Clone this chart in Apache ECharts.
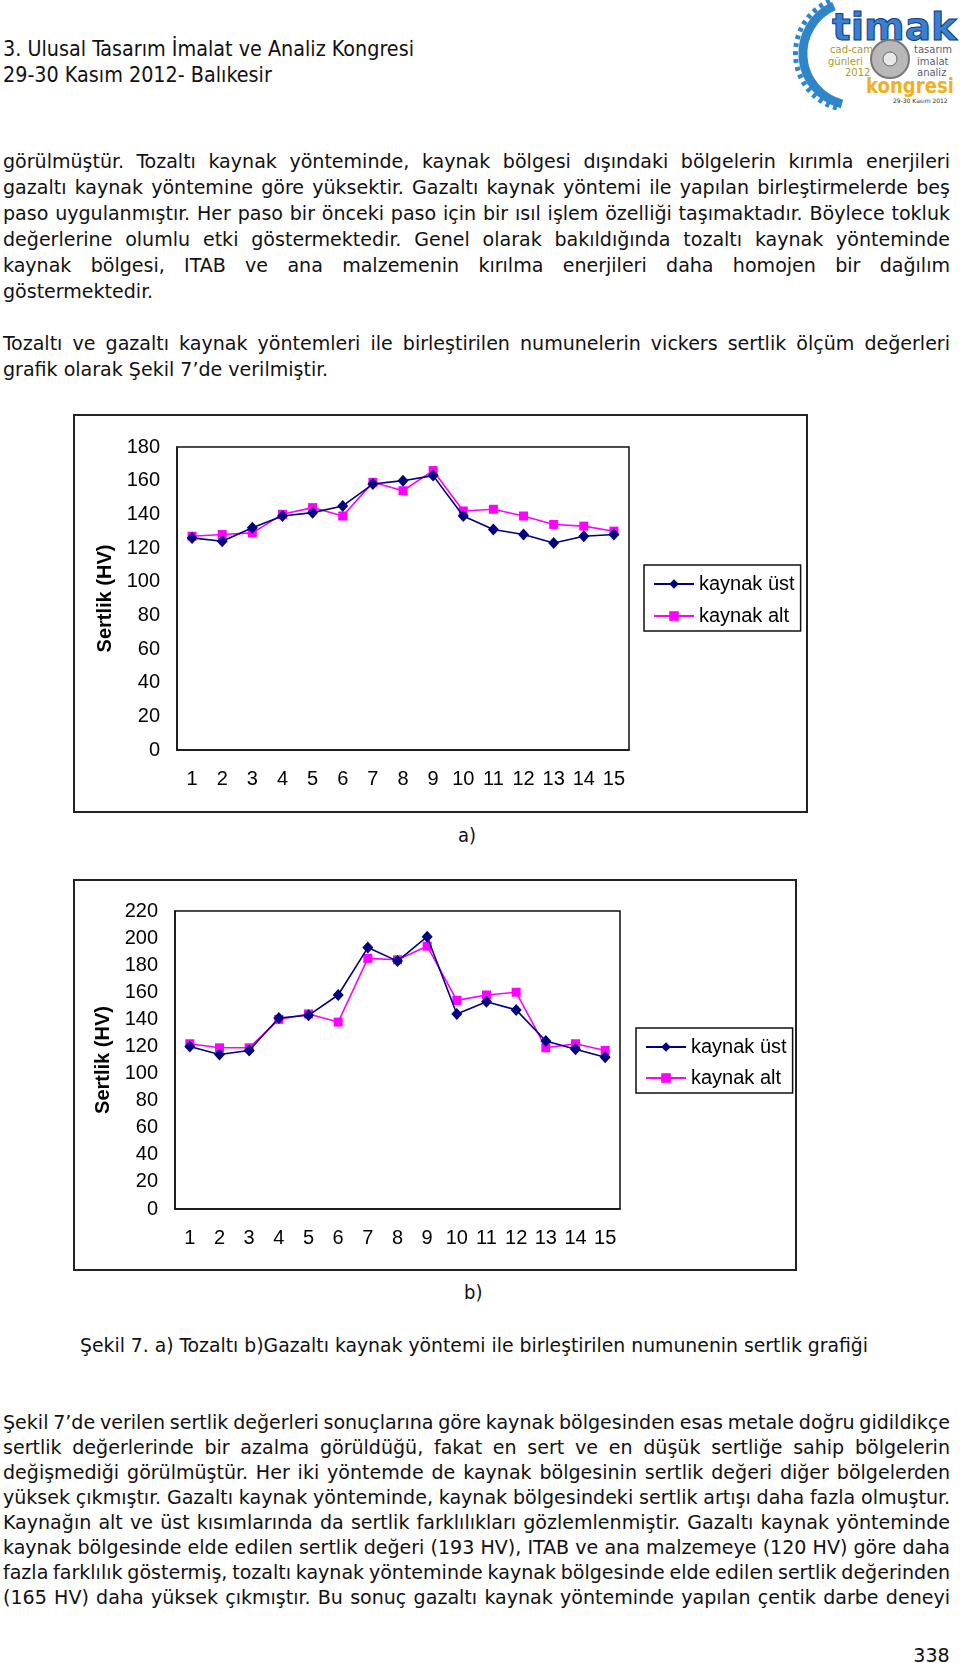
<!DOCTYPE html>
<html><head><meta charset="utf-8">
<script src="https://cdn.jsdelivr.net/npm/echarts@6/dist/echarts.min.js"></script>
<style>
html,body{margin:0;padding:0;background:#fff;}
#page{position:relative;width:960px;height:1663px;overflow:hidden;background:#fff;}
.t{position:absolute;font-family:"DejaVu Sans Condensed","DejaVu Sans",sans-serif;color:#111;white-space:nowrap;transform-origin:0 50%;line-height:24px;height:24px;}
.j{text-align:justify;text-align-last:justify;white-space:normal;}
.chart{position:absolute;}
#logo{position:absolute;left:790px;top:0;width:170px;height:110px;}
</style></head>
<body><div id="page">
<svg id="logo" viewBox="0 0 170 110" xmlns="http://www.w3.org/2000/svg">
  <path d="M 44 6 A 52 52 0 0 0 52 104" fill="none" stroke="#2e86c8" stroke-width="9"/>
  <path d="M 40 1 A 57 57 0 0 0 50 109" fill="none" stroke="#2e86c8" stroke-width="5" stroke-dasharray="4 4"/>
  <text x="42" y="40" font-family="DejaVu Sans" font-weight="bold" font-size="37" fill="#3a7fd0" stroke="#0d3d80" stroke-width="1" textLength="125" lengthAdjust="spacingAndGlyphs">timak</text>
  <circle cx="100" cy="59" r="19" fill="#b8b8b8" stroke="#777" stroke-width="2"/>
  <circle cx="100" cy="59" r="7" fill="#e8e8e8" stroke="#666" stroke-width="1"/>
  <text x="40" y="53" font-family="DejaVu Sans" font-size="10" fill="#a89a2a">cad-cam</text>
  <text x="38" y="65" font-family="DejaVu Sans" font-size="10" fill="#a89a2a">günleri</text>
  <text x="55" y="76" font-family="DejaVu Sans" font-size="10" fill="#a89a2a">2012</text>
  <text x="124" y="53" font-family="DejaVu Sans" font-size="10" fill="#556070">tasarım</text>
  <text x="127" y="65" font-family="DejaVu Sans" font-size="10" fill="#556070">imalat</text>
  <text x="127" y="76" font-family="DejaVu Sans" font-size="10" fill="#556070">analiz</text>
  <text x="76" y="93" font-family="DejaVu Sans" font-weight="bold" font-size="22" fill="#f0b020" textLength="88" lengthAdjust="spacingAndGlyphs">kongresi</text>
  <text x="103" y="103" font-family="DejaVu Sans" font-size="6" fill="#333">29-30 Kasım 2012</text>
</svg>
<div id="chartA" class="chart" style="left:73px;top:414px;width:735px;height:399px;"></div>
<div id="chartB" class="chart" style="left:73px;top:879px;width:724px;height:392px;"></div>
</div>
<script>
// ---------- DATA ----------
const categories = ['1','2','3','4','5','6','7','8','9','10','11','12','13','14','15'];
const seriesNames = ['kaynak üst','kaynak alt'];
// a) Tozaltı
const aUst = [126,124,132,139,141,145,158,160,163,139,131,128,123,127,128];
const aAlt = [127,128,129,140,144,139,159,154,166,142,143,139,134,133,130];
const aYMin = 0, aYMax = 180, aYStep = 20;
// b) Gazaltı
const bUst = [120,114,117,141,143,158,193,183,201,144,153,147,124,118,112];
const bAlt = [122,119,119,140,144,138,185,184,194,154,158,160,119,122,117];
const bYMin = 0, bYMax = 220, bYStep = 20;
const yAxisTitle = 'Sertlik (HV)';

// ---------- TEXT ----------
const header = ['3. Ulusal Tasarım İmalat ve Analiz Kongresi','29-30 Kasım 2012- Balıkesir'];
const para1 = [
 'görülmüştür. Tozaltı kaynak yönteminde, kaynak bölgesi dışındaki bölgelerin kırımla enerjileri',
 'gazaltı kaynak yöntemine göre yüksektir. Gazaltı kaynak yöntemi ile yapılan birleştirmelerde beş',
 'paso uygulanmıştır. Her paso bir önceki paso için bir ısıl işlem özelliği taşımaktadır. Böylece tokluk',
 'değerlerine olumlu etki göstermektedir. Genel olarak bakıldığında tozaltı kaynak yönteminde',
 'kaynak bölgesi, ITAB ve ana malzemenin kırılma enerjileri daha homojen bir dağılım',
 'göstermektedir.'];
const para2 = [
 'Tozaltı ve gazaltı kaynak yöntemleri ile birleştirilen numunelerin vickers sertlik ölçüm değerleri',
 'grafik olarak Şekil 7’de verilmiştir.'];
const caption = 'Şekil 7. a) Tozaltı b)Gazaltı kaynak yöntemi ile birleştirilen numunenin sertlik grafiği';
const para3 = [
 'Şekil 7’de verilen sertlik değerleri sonuçlarına göre kaynak bölgesinden esas metale doğru gidildikçe',
 'sertlik değerlerinde bir azalma görüldüğü, fakat en sert ve en düşük sertliğe sahip bölgelerin',
 'değişmediği görülmüştür. Her iki yöntemde de kaynak bölgesinin sertlik değeri diğer bölgelerden',
 'yüksek çıkmıştır. Gazaltı kaynak yönteminde, kaynak bölgesindeki sertlik artışı daha fazla olmuştur.',
 'Kaynağın alt ve üst kısımlarında da sertlik farklılıkları gözlemlenmiştir. Gazaltı kaynak yönteminde',
 'kaynak bölgesinde elde edilen sertlik değeri (193 HV), ITAB ve ana malzemeye (120 HV) göre daha',
 'fazla farklılık göstermiş, tozaltı kaynak yönteminde kaynak bölgesinde elde edilen sertlik değerinden',
 '(165 HV) daha yüksek çıkmıştır. Bu sonuç gazaltı kaynak yönteminde yapılan çentik darbe deneyi'];
const pageNo = '338';

// ---------- LAYOUT OF TEXT ----------
const page = document.getElementById('page');
function measure(txt, size, ws){
  const s = document.createElement('span');
  s.className = 't'; s.style.fontSize = size + 'px'; s.style.position='absolute'; s.style.visibility='hidden';
  if (ws) s.style.wordSpacing = ws + 'px';
  s.textContent = txt; page.appendChild(s);
  const w = s.getBoundingClientRect().width; page.removeChild(s); return w;
}
function addLine(txt, x, y, size, scale, width, justify, rightAlign, ws){
  const d = document.createElement('div');
  d.className = 't' + (justify ? ' j' : '');
  d.style.fontSize = size + 'px';
  d.style.top = (y - 12) + 'px';
  d.style.transform = 'scaleX(' + scale + ')';
  if (ws) d.style.wordSpacing = ws + 'px';
  d.textContent = txt;
  if (width) d.style.width = (width / scale) + 'px';
  if (rightAlign){ d.style.transformOrigin = '100% 50%'; d.style.left = (x - width/scale) + 'px'; d.style.textAlign='right'; }
  else d.style.left = x + 'px';
  page.appendChild(d);
}
const BF = 20, TX = 3, TW = 947;
const spaceW = measure('a a', BF) - measure('aa', BF);
const ws = -0.3 * spaceW;
const justified = [...para1.slice(0,5), para2[0], ...para3];
let maxW = 0;
justified.forEach(t => {
  const n = (t.match(/ /g) || []).length;
  maxW = Math.max(maxW, measure(t, BF) + n * ws);
});
const bs = 941 / maxW;
// header
const hw = measure(header[0], 21);
const hs = 411 / hw;
addLine(header[0], 3, 49, 21, hs);
addLine(header[1], 3, 75, 21, hs);
para1.forEach((t,i) => addLine(t, TX, 160.5 + 26*i, BF, bs, TW, i < 5, false, i < 5 ? ws : 0));
para2.forEach((t,i) => addLine(t, TX, 343 + 26*i, BF, bs, TW, i < 1, false, i < 1 ? ws : 0));
const cw = measure(caption, BF);
addLine(caption, 80, 1345, BF, 788/cw);
para3.forEach((t,i) => addLine(t, TX, 1421.5 + 25.1*i, BF, bs, TW, true, false, ws));
addLine('a)', 458, 835, 20, 1);
addLine('b)', 464, 1292, 20, 1);
addLine(pageNo, 950, 1655, 20, bs, 60, false, true);

// ---------- CHARTS ----------
const FONT = '"Liberation Sans", Arial, sans-serif';
function makeChart(el, W, H, grid, legendPos, yMin, yMax, yStep, ust, alt, itemGap){
  const c = echarts.init(document.getElementById(el), null, {renderer:'canvas'});
  c.setOption({
    animation:false,
    backgroundColor:'#fff',
    graphic:[{type:'rect', shape:{x:1,y:1,width:W-2,height:H-2}, style:{fill:'none', stroke:'#222', lineWidth:2}, silent:true}],
    grid:Object.assign({show:true, borderColor:'#111', borderWidth:1.5, backgroundColor:'transparent', containLabel:false}, grid),
    legend:{
      orient:'vertical', left:legendPos[0], top:legendPos[1], data:seriesNames,
      itemWidth:40, itemHeight:12, itemGap:itemGap, padding:[9,6,5,9],
      borderColor:'#111', borderWidth:1.5, backgroundColor:'#fff',
      textStyle:{fontFamily:FONT, fontSize:20, color:'#000'}
    },
    xAxis:{
      type:'category', data:categories, boundaryGap:true,
      axisLine:{lineStyle:{color:'#111', width:1.5}},
      axisTick:{inside:true, length:5, interval:0, lineStyle:{color:'#111', width:1.5}},
      axisLabel:{interval:0, margin:19, fontFamily:FONT, fontSize:20, color:'#000'},
      splitLine:{show:false}
    },
    yAxis:{
      type:'value', min:yMin, max:yMax, interval:yStep,
      name:yAxisTitle, nameLocation:'middle', nameGap:58,
      nameTextStyle:{fontFamily:FONT, fontSize:20, fontWeight:'bold', color:'#000'},
      axisLine:{show:true, lineStyle:{color:'#111', width:1.5}},
      axisTick:{show:false},
      axisLabel:{margin:17, fontFamily:FONT, fontSize:20, color:'#000'},
      splitLine:{show:false}
    },
    series:[
      {name:seriesNames[0], type:'line', data:ust, symbol:'diamond', symbolSize:[11,12],
       lineStyle:{color:'#000080', width:1.6}, itemStyle:{color:'#000080'}, z:3},
      {name:seriesNames[1], type:'line', data:alt, symbol:'rect', symbolSize:9,
       lineStyle:{color:'#FF00FF', width:1.6}, itemStyle:{color:'#FF00FF'}, z:2}
    ]
  });
}
makeChart('chartA', 735, 399, {left:104, top:33, width:452, height:303}, [571,151], aYMin, aYMax, aYStep, aUst, aAlt, 12);
makeChart('chartB', 724, 392, {left:102, top:32, width:445, height:298}, [563,149], bYMin, bYMax, bYStep, bUst, bAlt, 11);
</script>
</body></html>
